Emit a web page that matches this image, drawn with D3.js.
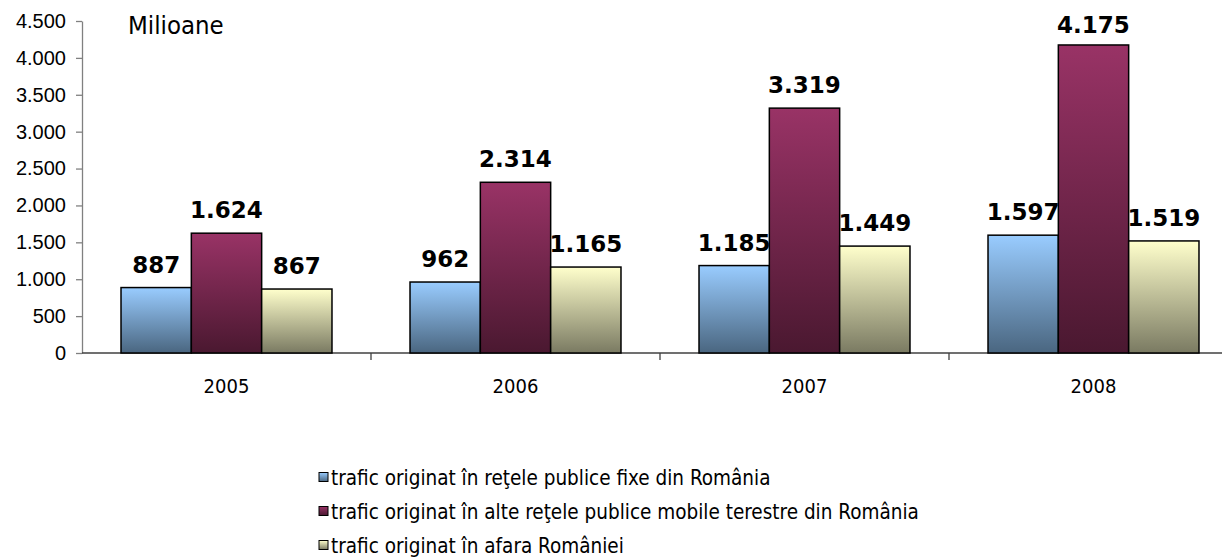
<!DOCTYPE html>
<html>
<head>
<meta charset="utf-8">
<style>
  body { margin: 0; background: #fff; }
  svg { display: block; font-family: 'DejaVu Sans Condensed', 'DejaVu Sans', sans-serif; }
  .axis-y path { stroke: #808080; }
  .axis-y line { stroke: #808080; }
  .axis-x path, .axis-x line { stroke: #404040; }
  .tick text { fill: #000; }
  .val { font-family: 'DejaVu Sans', sans-serif; font-weight: bold; font-size: 23px; text-anchor: middle; }
</style>
</head>
<body>
<div id="chart"></div>
<script src="https://cdn.jsdelivr.net/npm/d3@7"></script>
<script>
const years = ['2005', '2006', '2007', '2008'];
const seriesNames = [
  'trafic originat în reţele publice fixe din România',
  'trafic originat în alte reţele publice mobile terestre din România',
  'trafic originat în afara României'
];
const fixe = [887, 962, 1185, 1597];
const mobile = [1624, 2314, 3319, 4175];
const afara = [867, 1165, 1449, 1519];
const yTicks = [0, 500, 1000, 1500, 2000, 2500, 3000, 3500, 4000, 4500];
const unitLabel = 'Milioane';

// top / bottom colour of each series gradient
const colors = [
  ['#99ccff', '#4a6680'],
  ['#993366', '#4a1830'],
  ['#ffffcc', '#7a7a62']
];

const series = [fixe, mobile, afara];
const width = 1222, height = 559;

const ro = d3.formatLocale({ decimal: ',', thousands: '.', grouping: [3], currency: ['', ''] });
const fmt = ro.format(',d');

const svg = d3.select('#chart').append('svg')
    .attr('width', width)
    .attr('height', height);

const defs = svg.append('defs');
colors.forEach((c, i) => {
  const g = defs.append('linearGradient')
      .attr('id', 'grad' + i)
      .attr('x1', 0).attr('y1', 0).attr('x2', 0).attr('y2', 1);
  g.append('stop').attr('offset', '0%').attr('stop-color', c[0]);
  g.append('stop').attr('offset', '100%').attr('stop-color', c[1]);
});

const x = d3.scaleBand()
    .domain(years)
    .range([82, 1238])
    .paddingInner(0.27)
    .paddingOuter(0.135);

const xs = d3.scaleBand()
    .domain(d3.range(series.length))
    .range([0, x.bandwidth()]);

const y = d3.scaleLinear()
    .domain([0, 4500])
    .range([353, 21]);

// y axis
svg.append('g')
    .attr('class', 'axis-y')
    .attr('transform', 'translate(82,0)')
    .call(d3.axisLeft(y).tickValues(yTicks).tickFormat(fmt).tickSize(6).tickSizeOuter(0).tickPadding(10))
    .call(g => g.selectAll('text').style('font-size', '20px'))
    .call(g => g.selectAll('path, line').attr('stroke-width', 1.3));

// x axis with ticks at band boundaries
const xAxis = svg.append('g')
    .attr('class', 'axis-x')
    .attr('transform', `translate(0,${y(0)})`);
xAxis.append('line')
    .attr('x1', x.range()[0]).attr('x2', x.range()[1])
    .attr('stroke', '#404040').attr('stroke-width', 1.3);
xAxis.selectAll('line.sep')
    .data(years.slice(1))
    .join('line')
    .attr('class', 'sep')
    .attr('x1', d => x(d) - x.step() * x.paddingInner() / 2)
    .attr('x2', d => x(d) - x.step() * x.paddingInner() / 2)
    .attr('y1', 0).attr('y2', 7)
    .attr('stroke', '#404040').attr('stroke-width', 1.3);
xAxis.selectAll('text')
    .data(years)
    .join('text')
    .attr('x', d => x(d) + x.bandwidth() / 2)
    .attr('y', 40)
    .attr('text-anchor', 'middle')
    .style('font-size', '20px')
    .text(d => d);

// bars
const groups = svg.append('g').selectAll('g')
    .data(years)
    .join('g')
    .attr('transform', d => `translate(${x(d)},0)`);

groups.selectAll('rect')
    .data((d, j) => series.map((s, i) => ({ i, v: s[j] })))
    .join('rect')
    .attr('x', d => xs(d.i))
    .attr('y', d => y(d.v))
    .attr('width', xs.bandwidth())
    .attr('height', d => y(0) - y(d.v))
    .attr('fill', d => `url(#grad${d.i})`)
    .attr('stroke', '#000')
    .attr('stroke-width', 1.5);

groups.selectAll('text.val')
    .data((d, j) => series.map((s, i) => ({ i, v: s[j] })))
    .join('text')
    .attr('class', 'val')
    .attr('x', d => xs(d.i) + xs.bandwidth() / 2)
    .attr('y', d => Math.max(y(d.v) - 15, 33))
    .text(d => fmt(d.v));

svg.append('text')
    .attr('x', 128)
    .attr('y', 34)
    .style('font-size', '25.5px')
    .text(unitLabel);

// legend
const legend = svg.append('g')
    .attr('transform', 'translate(319,0)');
const rows = legend.selectAll('g')
    .data(seriesNames)
    .join('g')
    .attr('transform', (d, i) => `translate(0,${477 + i * 34})`);
rows.append('rect')
    .attr('x', 0).attr('y', -4.5)
    .attr('width', 9).attr('height', 9)
    .attr('fill', (d, i) => `url(#grad${i})`)
    .attr('stroke', '#000')
    .attr('stroke-width', 1);
rows.append('text')
    .attr('x', 12)
    .attr('y', 7.5)
    .style('font-size', '20.5px')
    .text(d => d);
</script>
</body>
</html>
